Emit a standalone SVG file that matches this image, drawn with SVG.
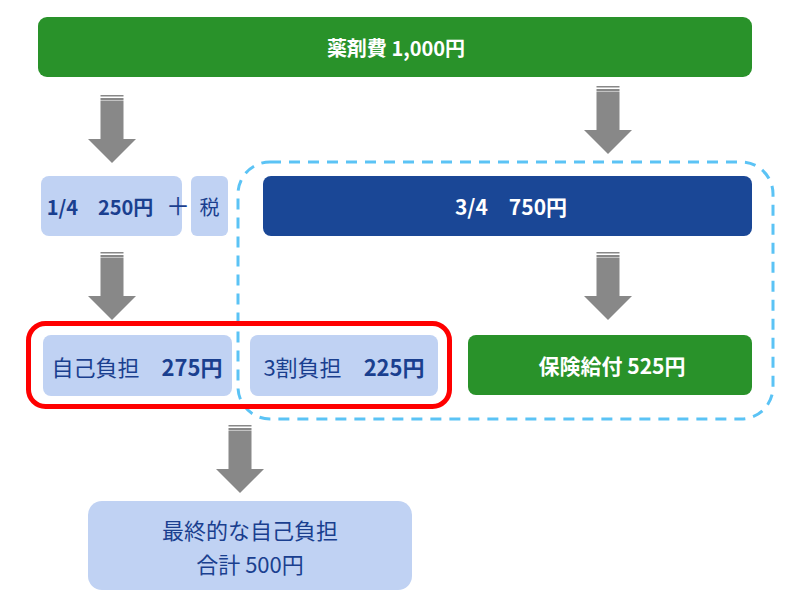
<svg xmlns="http://www.w3.org/2000/svg" width="800" height="609" viewBox="0 0 800 609">
<defs>
<style>
.light{fill:#c0d2f3}
.green{fill:#29922a}
.navy{fill:#1a4796}
.t{font-family:"Noto Sans CJK JP","Noto Sans",sans-serif;font-size:20px;text-anchor:middle;dominant-baseline:central}
.big{font-size:22px}
.tb{font-weight:bold}
.dk{fill:#1a3f8f}
.wh{fill:#ffffff}
.arr{fill:#888888}
.stripe{fill:#888888}
</style>
<g id="arrow">
<rect class="stripe" x="-11.5" y="0" width="23" height="1.5"/>
<rect class="stripe" x="-11.5" y="3" width="23" height="2.5"/>
<polygon class="arr" points="-11.5,6 11.5,6 11.5,44 24,44 0,68 -24,44 -11.5,44"/>
</g>
</defs>
<rect width="800" height="609" fill="#ffffff"/>
<g id="connectors">
<use href="#arrow" x="112" y="95"/>
<use href="#arrow" x="608" y="86"/>
<use href="#arrow" x="112" y="252"/>
<use href="#arrow" x="608" y="252"/>
<use href="#arrow" x="240" y="425"/>
</g>
<g id="insurance-group">
<rect x="238" y="162" width="535" height="257" rx="32" fill="none" stroke="#5bc3f5" stroke-width="3" stroke-dasharray="11 8"/>
</g>
<g id="drug-cost">
<rect class="green" x="38" y="17" width="714" height="60" rx="9"/>
<text class="t tb wh" x="396" y="47">薬剤費 1,000円</text>
</g>
<g id="quarter">
<rect class="light" x="41" y="176" width="141" height="60" rx="8"/>
<text class="t tb dk" x="100" y="206">1/4　250円</text>
</g>
<g id="plus">
<text class="t dk" x="178" y="204" style="font-size:24px">＋</text>
</g>
<g id="tax">
<rect class="light" x="191" y="176" width="37" height="60" rx="6"/>
<text class="t dk" x="209.5" y="206">税</text>
</g>
<g id="three-quarter">
<rect class="navy" x="263" y="176" width="489" height="60" rx="8"/>
<text class="t tb wh big" x="511" y="206" style="font-size:21px">3/4　750円</text>
</g>
<g id="self-pay">
<rect class="light" x="43" y="335" width="189" height="61" rx="8"/>
<text class="t dk big" x="137" y="365.5">自己負担　<tspan font-weight="bold">275円</tspan></text>
</g>
<g id="thirty-percent">
<rect class="light" x="250" y="335" width="188" height="61" rx="8"/>
<text class="t dk big" x="344" y="365.5">3割負担　<tspan font-weight="bold">225円</tspan></text>
</g>
<g id="highlight">
<rect x="28.5" y="323.5" width="421" height="83" rx="17" fill="none" stroke="#ff0000" stroke-width="5"/>
</g>
<g id="benefit">
<rect class="green" x="468" y="335" width="284" height="60" rx="8"/>
<text class="t tb wh big" x="612" y="365" style="font-size:21px">保険給付 525円</text>
</g>
<g id="final">
<rect class="light" x="88" y="501" width="324" height="89" rx="14"/>
<text class="t dk big" x="250" y="529">最終的な自己負担</text>
<text class="t dk big" x="250" y="563">合計 500円</text>
</g>
</svg>
